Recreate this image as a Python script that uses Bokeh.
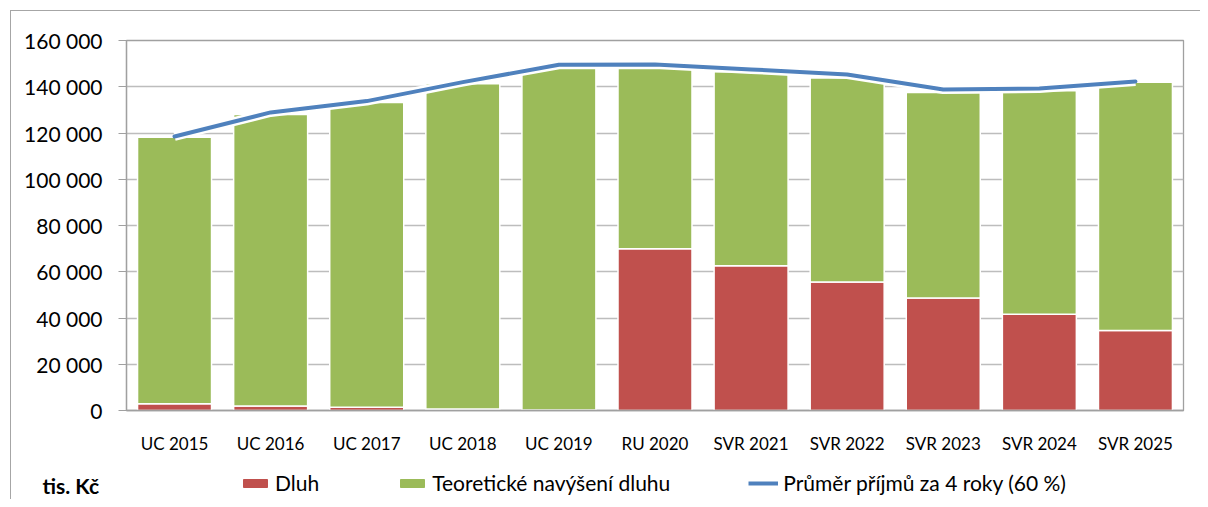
from bokeh.plotting import figure
from bokeh.layouts import column
from bokeh.models import (FactorRange, Range1d, FixedTicker, Legend, LegendItem,
                          Label)
from bokeh.embed import file_html
from bokeh.resources import INLINE

categories = ["UC 2015", "UC 2016", "UC 2017", "UC 2018", "UC 2019", "RU 2020",
              "SVR 2021", "SVR 2022", "SVR 2023", "SVR 2024", "SVR 2025"]
dluh = [2900, 2000, 1400, 650, 200, 70000, 62600, 55600, 48600, 41600, 34600]
teoreticke = [115300, 126000, 131800, 140650, 148500, 78000, 83900, 88200, 88900, 96700, 107400]
prumer = [118500, 128900, 133800, 142000, 149500, 149600, 147500, 145300, 138800, 139200, 142300]

y_ticks = [0, 20000, 40000, 60000, 80000, 100000, 120000, 140000, 160000]
y_tick_labels = ["0", "20 000", "40 000", "60 000", "80 000", "100 000",
                 "120 000", "140 000", "160 000"]

series_names = ["Dluh", "Teoretické navýšení dluhu", "Průměr příjmů za 4 roky (60 %)"]
unit_label = "tis. Kč"

FONT = "Lato"
RED = "#C0504D"
GREEN = "#9BBB59"
BLUE = "#4F81BD"
GRAY = "#A0A0A0"

p = figure(x_range=FactorRange(*categories, range_padding=0),
           y_range=Range1d(0, 160000),
           width=1200, height=460, output_backend="svg", toolbar_location=None,
           min_border_left=126, min_border_right=17, min_border_top=40,
           min_border_bottom=50)
p.border_fill_color = None
p.background_fill_color = "white"

data = {"cat": categories, "dluh": dluh, "teor": teoreticke}
p.vbar_stack(["dluh", "teor"], x="cat", width=0.77, source=data,
             color=[RED, GREEN], line_color="white", line_width=1.5)

p.line(categories, prumer, line_color="white", line_width=9, line_join="round")
p.line(categories, prumer, line_color=BLUE, line_width=4, line_join="round",
       line_cap="round")

# axes
p.yaxis.ticker = FixedTicker(ticks=y_ticks)
p.yaxis.major_label_overrides = {t: l for t, l in zip(y_ticks, y_tick_labels)}
p.yaxis.major_tick_out = 8
p.yaxis.major_tick_in = 0
p.yaxis.minor_tick_line_color = None
p.yaxis.major_tick_line_color = GRAY
p.yaxis.axis_line_color = GRAY
p.yaxis.axis_line_width = 1.3
p.yaxis.major_label_standoff = 16
p.yaxis.major_label_text_font = FONT
p.yaxis.major_label_text_font_size = "21px"
p.yaxis.major_label_text_color = "black"

p.xaxis.major_tick_line_color = None
p.xaxis.minor_tick_line_color = None
p.xaxis.axis_line_color = GRAY
p.xaxis.axis_line_width = 1.5
p.xaxis.major_label_standoff = 16
p.xaxis.major_label_text_font = FONT
p.xaxis.major_label_text_font_size = "17px"
p.xaxis.major_label_text_color = "black"

p.xgrid.grid_line_color = None
p.ygrid.ticker = FixedTicker(ticks=y_ticks)
p.ygrid.grid_line_color = "#BDBDBD"
p.ygrid.grid_line_width = 1.3

p.outline_line_color = GRAY
p.outline_line_width = 1.3

# legend strip below the chart
p2 = figure(width=1200, height=39, x_range=Range1d(0, 1200), y_range=Range1d(0, 39),
            output_backend="svg", toolbar_location=None,
            x_axis_type=None, y_axis_type=None,
            min_border_left=0, min_border_right=0, min_border_top=0,
            min_border_bottom=0)
if hasattr(p2, "frame_align"):
    p2.frame_align = False
if hasattr(p, "frame_align"):
    p.frame_align = False
p2.grid.visible = False
p2.outline_line_color = None
p2.border_fill_color = None
p2.background_fill_color = None
# legend proxies placed outside the visible strip
r1 = p2.vbar(x=[5000], top=[1], width=1, color=RED)
r2 = p2.vbar(x=[5000], top=[1], width=1, color=GREEN)
r3 = p2.line(x=[5000, 5001], y=[1, 1], line_color=BLUE, line_width=4)

legend = Legend(items=[LegendItem(label=series_names[0], renderers=[r1]),
                       LegendItem(label=series_names[1], renderers=[r2]),
                       LegendItem(label=series_names[2], renderers=[r3])],
                orientation="horizontal", location=(238, 2),
                glyph_width=30, glyph_height=10, label_standoff=5, spacing=78,
                padding=2, margin=0, label_height=20,
                label_text_font=FONT, label_text_font_size="21px",
                label_text_color="black",
                border_line_alpha=0, background_fill_alpha=0)
p2.add_layout(legend, "center")

p2.add_layout(Label(x=42, y=14, text=unit_label, text_font=FONT,
                    text_font_size="21px", text_font_style="bold",
                    text_baseline="middle", text_align="left", text_color="black"))

frame_lines = ("linear-gradient(#A6A6A6, #A6A6A6) 10px 10px / 100% 1px no-repeat, "
               "linear-gradient(#A6A6A6, #A6A6A6) 10px 10px / 1px 100% no-repeat, white")
layout = column(p, p2, spacing=0, styles={"background": frame_lines})
open("out.html", "w").write(file_html(layout, INLINE))
